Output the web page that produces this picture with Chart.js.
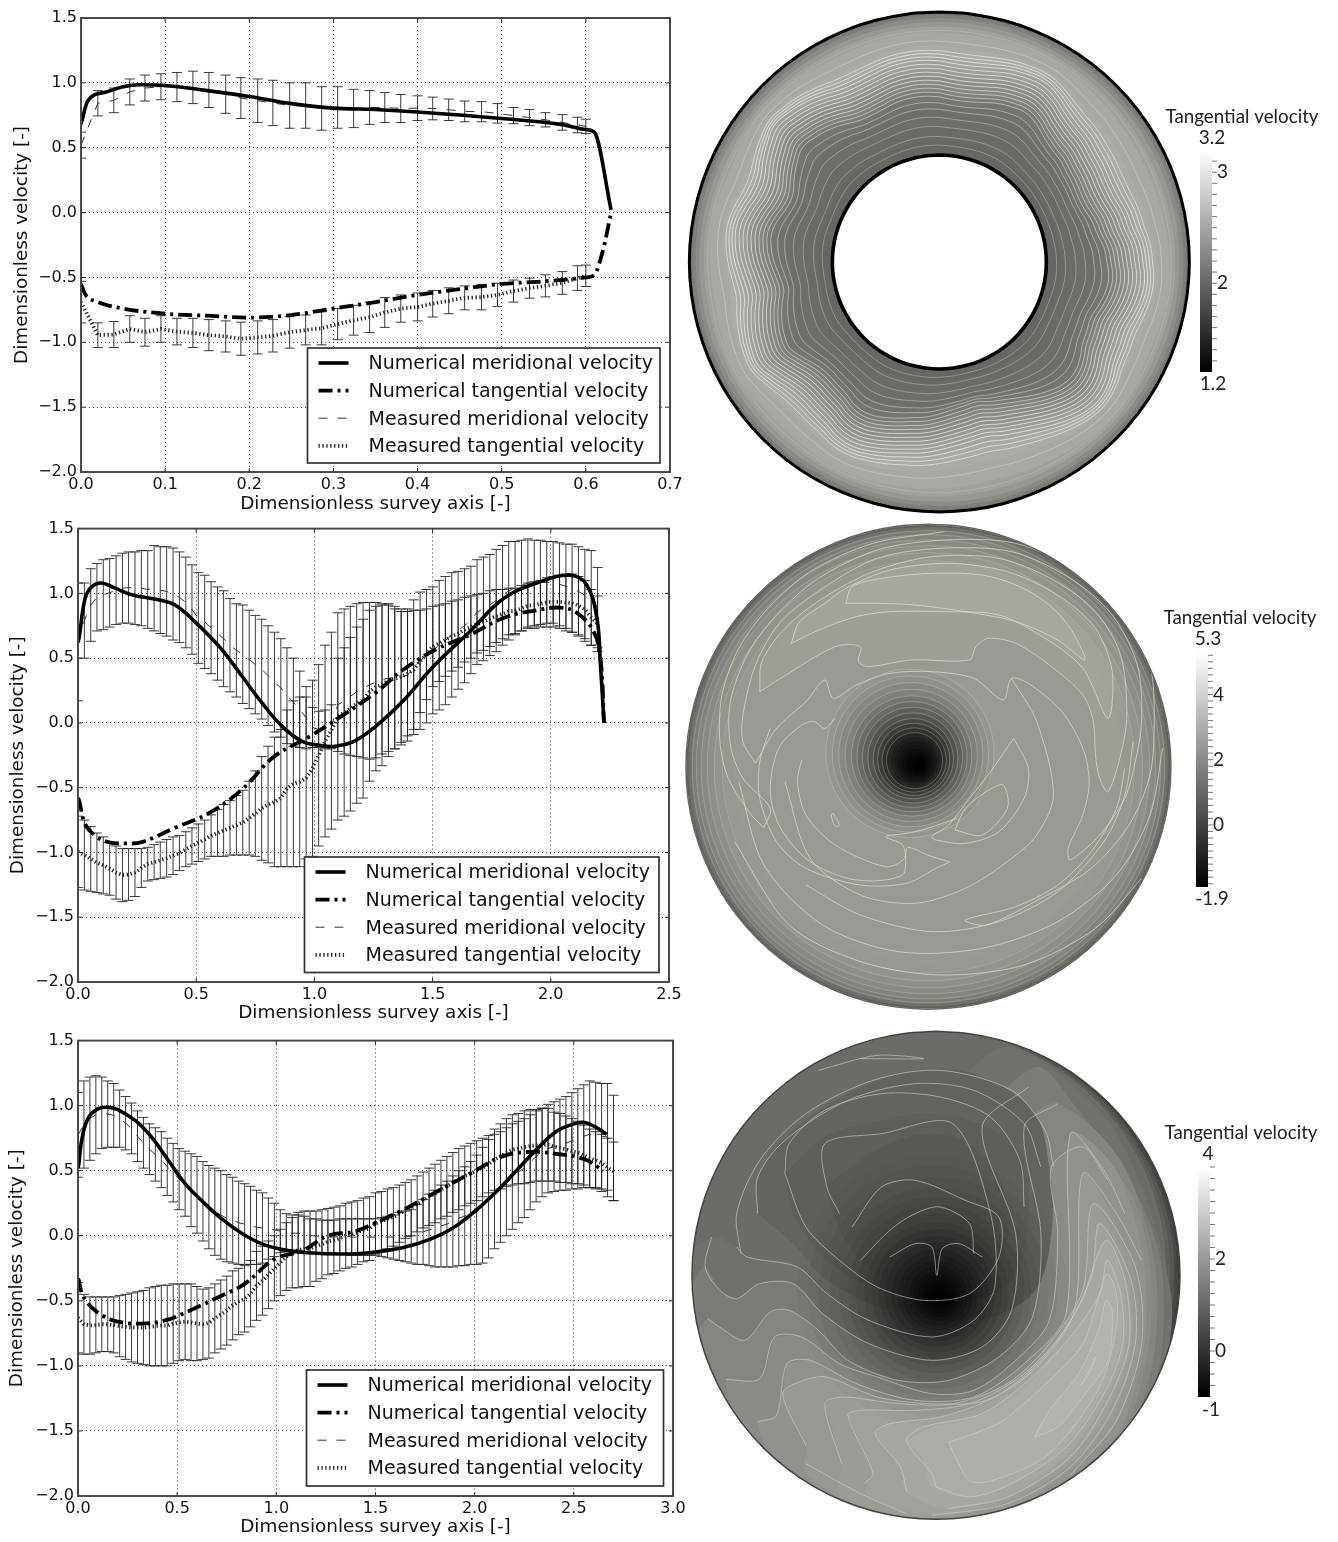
<!DOCTYPE html>
<html><head><meta charset="utf-8">
<style>
html,body{margin:0;padding:0;background:#fff;width:1338px;height:1542px;overflow:hidden}
canvas{position:absolute;display:block;filter:blur(0.5px)}
</style>
<script src="https://cdn.jsdelivr.net/npm/chart.js@4/dist/chart.umd.js"></script>
</head><body>
<script>
/* ---------- chart 1 ---------- */
const x1=[0,0.02,0.039,0.058,0.076,0.095,0.114,0.133,0.152,0.172,0.19,0.21,0.228,0.248,0.267,0.286,0.305,0.324,0.343,0.361,0.38,0.4,0.418,0.437,0.456,0.476,0.495,0.514,0.533,0.552,0.572,0.59,0.6];
const merUp1=[0.62,0.94,0.96,1.03,1.06,1.07,1.08,1.09,1.08,1.06,1.04,1.03,1.02,1.0,1.0,0.97,0.97,0.95,0.94,0.925,0.91,0.9,0.89,0.875,0.86,0.855,0.84,0.81,0.795,0.77,0.755,0.735,0.72];
const merLo1=[0.42,0.745,0.77,0.83,0.86,0.87,0.855,0.84,0.81,0.765,0.725,0.695,0.67,0.65,0.65,0.635,0.65,0.655,0.68,0.695,0.695,0.71,0.715,0.71,0.7,0.7,0.69,0.685,0.67,0.66,0.635,0.615,0.61];
const tanUp1=[-0.53,-0.85,-0.84,-0.795,-0.815,-0.795,-0.815,-0.815,-0.825,-0.835,-0.845,-0.835,-0.825,-0.8,-0.79,-0.765,-0.74,-0.715,-0.69,-0.655,-0.635,-0.62,-0.6,-0.58,-0.565,-0.555,-0.545,-0.52,-0.505,-0.48,-0.455,-0.41,-0.405];
const tanLo1=[-0.85,-1.04,-1.04,-1.0,-1.03,-1.0,-1.02,-1.04,-1.065,-1.075,-1.1,-1.09,-1.075,-1.045,-1.02,-1.02,-0.98,-0.945,-0.925,-0.885,-0.845,-0.835,-0.805,-0.78,-0.75,-0.75,-0.725,-0.69,-0.66,-0.65,-0.63,-0.6,-0.57];
const numMerX1=[0,0.008,0.03,0.05,0.07,0.1,0.15,0.2,0.25,0.3,0.35,0.4,0.5,0.57,0.6,0.61,0.63];
const numMerY1=[0.68,0.86,0.93,0.97,0.985,0.98,0.94,0.895,0.84,0.805,0.795,0.775,0.725,0.68,0.64,0.62,0.02];
const numTanX1=[0,0.005,0.02,0.05,0.1,0.15,0.2,0.25,0.3,0.35,0.4,0.45,0.5,0.55,0.6,0.61,0.62,0.63];
const numTanY1=[-0.55,-0.63,-0.69,-0.74,-0.78,-0.795,-0.81,-0.79,-0.74,-0.69,-0.635,-0.59,-0.55,-0.53,-0.5,-0.48,-0.3,0];
/* ---------- chart 2 ---------- */
const x2=[0,0.027,0.054,0.08,0.107,0.134,0.161,0.188,0.214,0.241,0.268,0.295,0.322,0.348,0.375,0.402,0.429,0.456,0.482,0.509,0.536,0.563,0.59,0.616,0.643,0.67,0.697,0.724,0.75,0.777,0.804,0.831,0.858,0.884,0.911,0.938,0.965,0.992,1.018,1.045,1.072,1.099,1.126,1.152,1.179,1.206,1.233,1.26,1.286,1.313,1.34,1.367,1.394,1.42,1.447,1.474,1.501,1.528,1.554,1.581,1.608,1.635,1.662,1.688,1.715,1.742,1.769,1.796,1.822,1.849,1.876,1.903,1.93,1.956,1.983,2.01,2.037,2.064,2.09,2.117,2.144,2.171,2.198];
const merUp2=[1.08,1.08,1.19,1.23,1.26,1.27,1.29,1.31,1.32,1.32,1.33,1.33,1.37,1.36,1.36,1.35,1.32,1.28,1.22,1.16,1.14,1.09,1.05,1.02,0.96,0.92,0.91,0.87,0.83,0.8,0.75,0.7,0.65,0.58,0.5,0.4,0.28,0.12,0.09,0.1,0.14,0.5,0.58,0.66,0.74,0.8,0.87,0.9,0.91,0.91,0.9,0.88,0.88,0.95,1.01,1.03,1.05,1.1,1.13,1.16,1.17,1.19,1.21,1.26,1.28,1.3,1.34,1.37,1.4,1.4,1.41,1.42,1.41,1.41,1.4,1.4,1.39,1.38,1.38,1.36,1.34,1.33,1.2];
const merLo2=[0.17,0.5,0.63,0.71,0.72,0.74,0.76,0.77,0.77,0.76,0.75,0.73,0.71,0.69,0.67,0.64,0.62,0.58,0.53,0.46,0.42,0.38,0.33,0.28,0.24,0.2,0.15,0.11,0.07,0.03,-0.02,-0.07,-0.11,-0.16,-0.18,-0.19,-0.2,-0.19,-0.19,-0.2,-0.2,-0.22,-0.24,-0.25,-0.26,-0.27,-0.28,-0.27,-0.24,-0.22,-0.2,-0.17,-0.14,-0.09,-0.05,0,0.07,0.1,0.14,0.2,0.26,0.31,0.38,0.45,0.48,0.52,0.55,0.6,0.64,0.68,0.71,0.74,0.75,0.76,0.77,0.77,0.75,0.73,0.7,0.67,0.63,0.6,0.58];
const tanUp2=[-0.72,-0.75,-0.8,-0.85,-0.88,-0.92,-0.95,-0.97,-0.97,-0.97,-0.97,-0.96,-0.94,-0.92,-0.9,-0.88,-0.87,-0.84,-0.81,-0.78,-0.75,-0.71,-0.67,-0.63,-0.6,-0.56,-0.52,-0.45,-0.37,-0.26,-0.18,-0.11,-0.05,0.1,0.17,0.2,0.2,0.33,0.45,0.6,0.7,0.85,0.88,0.9,0.92,0.93,0.93,0.93,0.92,0.92,0.88,0.86,0.86,0.87,0.87,0.88,0.9,0.91,0.92,0.94,0.95,0.97,0.98,0.99,1,1.02,1.03,1.03,1.04,1.04,1.06,1.08,1.09,1.1,1.12,1.13,1.14,1.15,1.15,1.13,1.1,1.03,0.98];
const tanLo2=[-1.27,-1.29,-1.3,-1.31,-1.32,-1.33,-1.36,-1.38,-1.37,-1.34,-1.27,-1.22,-1.21,-1.2,-1.19,-1.17,-1.14,-1.11,-1.09,-1.07,-1.05,-1.03,-1.03,-1.03,-1.02,-1.02,-1.02,-1.02,-1.03,-1.06,-1.08,-1.11,-1.11,-1.11,-1.11,-1.11,-1.05,-1.03,-0.95,-0.88,-0.82,-0.75,-0.72,-0.68,-0.62,-0.58,-0.45,-0.37,-0.33,-0.26,-0.2,-0.15,-0.1,-0.05,0.08,0.18,0.28,0.32,0.36,0.4,0.43,0.47,0.5,0.54,0.56,0.59,0.62,0.65,0.68,0.69,0.71,0.73,0.73,0.74,0.74,0.74,0.73,0.71,0.7,0.68,0.65,0.6,0.55];
const numMerX2=[0,0.005,0.03,0.058,0.1,0.157,0.227,0.34,0.41,0.495,0.607,0.69,0.776,0.86,0.946,1.03,1.087,1.17,1.257,1.375,1.5,1.66,1.8,1.94,2.08,2.15,2.195,2.21,2.225];
const numMerY2=[0.62,0.66,0.96,1.05,1.08,1.04,0.99,0.95,0.91,0.78,0.57,0.37,0.16,-0.02,-0.14,-0.175,-0.18,-0.14,-0.03,0.17,0.43,0.71,0.96,1.08,1.14,1.07,0.81,0.45,0];
const numTanX2=[0,0.005,0.03,0.072,0.128,0.2,0.27,0.41,0.55,0.69,0.83,0.975,1.117,1.257,1.375,1.517,1.658,1.8,1.94,2.04,2.11,2.18,2.21,2.225];
const numTanY2=[-0.58,-0.6,-0.78,-0.87,-0.92,-0.93,-0.92,-0.81,-0.7,-0.52,-0.26,-0.11,0.055,0.23,0.41,0.57,0.68,0.81,0.87,0.89,0.85,0.71,0.5,0];
/* ---------- chart 3 ---------- */
const x3=[0,0.03,0.06,0.09,0.12,0.15,0.18,0.21,0.24,0.27,0.3,0.33,0.36,0.39,0.42,0.45,0.48,0.51,0.54,0.57,0.6,0.63,0.66,0.69,0.72,0.75,0.78,0.81,0.84,0.87,0.9,0.93,0.96,0.99,1.02,1.05,1.08,1.11,1.14,1.17,1.2,1.23,1.26,1.29,1.32,1.35,1.38,1.41,1.44,1.47,1.5,1.53,1.56,1.59,1.62,1.65,1.68,1.71,1.74,1.77,1.8,1.83,1.86,1.89,1.92,1.95,1.98,2.01,2.04,2.07,2.1,2.13,2.16,2.19,2.22,2.25,2.28,2.31,2.34,2.37,2.4,2.43,2.46,2.49,2.52,2.55,2.58,2.61,2.64,2.67,2.7];
const merUp3=[1.1,1.19,1.22,1.23,1.22,1.19,1.17,1.12,1.07,1.02,0.96,0.91,0.86,0.83,0.8,0.75,0.71,0.67,0.65,0.63,0.61,0.57,0.54,0.52,0.5,0.47,0.45,0.42,0.4,0.38,0.35,0.33,0.29,0.25,0.2,0.17,0.16,0.16,0.15,0.13,0.13,0.12,0.12,0.12,0.13,0.13,0.13,0.13,0.13,0.13,0.13,0.14,0.15,0.16,0.18,0.19,0.2,0.24,0.28,0.32,0.35,0.39,0.42,0.46,0.5,0.53,0.57,0.62,0.68,0.74,0.78,0.8,0.83,0.86,0.88,0.9,0.93,0.96,0.98,1.01,1.03,1.05,1.07,1.1,1.13,1.16,1.19,1.18,1.17,1.17,1.08];
const merLo3=[0.45,0.52,0.58,0.63,0.67,0.68,0.68,0.68,0.66,0.63,0.57,0.52,0.47,0.42,0.37,0.31,0.26,0.2,0.15,0.07,0.02,-0.04,-0.1,-0.15,-0.18,-0.2,-0.21,-0.22,-0.22,-0.22,-0.22,-0.21,-0.18,-0.16,-0.13,-0.12,-0.12,-0.12,-0.13,-0.13,-0.13,-0.14,-0.14,-0.14,-0.14,-0.14,-0.15,-0.15,-0.15,-0.15,-0.15,-0.16,-0.17,-0.18,-0.19,-0.2,-0.21,-0.22,-0.22,-0.23,-0.24,-0.24,-0.24,-0.24,-0.23,-0.23,-0.22,-0.22,-0.21,-0.17,-0.1,-0.05,0,0.05,0.1,0.14,0.2,0.26,0.3,0.33,0.34,0.35,0.35,0.36,0.36,0.37,0.37,0.37,0.36,0.35,0.27];
const tanUp3=[-0.36,-0.45,-0.47,-0.47,-0.47,-0.47,-0.47,-0.46,-0.45,-0.44,-0.43,-0.42,-0.4,-0.39,-0.38,-0.38,-0.37,-0.37,-0.37,-0.37,-0.39,-0.41,-0.4,-0.37,-0.34,-0.31,-0.27,-0.25,-0.23,-0.19,-0.12,-0.08,-0.04,0,0.05,0.1,0.14,0.18,0.19,0.19,0.19,0.2,0.21,0.22,0.23,0.25,0.26,0.27,0.29,0.3,0.33,0.34,0.36,0.37,0.39,0.41,0.43,0.46,0.49,0.52,0.55,0.58,0.61,0.64,0.67,0.69,0.71,0.73,0.75,0.77,0.82,0.86,0.9,0.93,0.94,0.96,0.97,0.97,0.98,0.98,0.95,0.94,0.92,0.9,0.88,0.85,0.82,0.8,0.78,0.75,0.72];
const tanLo3=[-0.9,-0.91,-0.91,-0.9,-0.89,-0.89,-0.9,-0.93,-0.95,-0.97,-0.98,-0.99,-1,-1,-1,-1,-0.98,-0.96,-0.95,-0.96,-0.96,-0.95,-0.94,-0.9,-0.87,-0.84,-0.8,-0.76,-0.74,-0.7,-0.65,-0.61,-0.56,-0.5,-0.46,-0.42,-0.4,-0.4,-0.39,-0.39,-0.35,-0.33,-0.3,-0.29,-0.27,-0.25,-0.24,-0.22,-0.2,-0.19,-0.14,-0.12,-0.1,-0.08,-0.05,-0.02,0,0.03,0.06,0.08,0.1,0.13,0.15,0.18,0.2,0.23,0.25,0.27,0.3,0.33,0.35,0.36,0.38,0.39,0.4,0.4,0.41,0.42,0.42,0.42,0.42,0.41,0.41,0.4,0.4,0.39,0.37,0.36,0.34,0.3,0.27];
const numMerX3=[0,0.005,0.018,0.05,0.1,0.153,0.2,0.29,0.37,0.455,0.54,0.62,0.72,0.825,0.925,1.03,1.16,1.33,1.47,1.64,1.77,1.89,2.01,2.11,2.21,2.31,2.41,2.5,2.555,2.61,2.665];
const numMerY3=[0.52,0.56,0.73,0.9,0.975,0.987,0.97,0.885,0.76,0.58,0.4,0.275,0.135,0.02,-0.06,-0.105,-0.13,-0.14,-0.13,-0.09,-0.03,0.06,0.2,0.34,0.5,0.66,0.8,0.86,0.87,0.835,0.78];
const numTanX3=[0,0.005,0.018,0.05,0.12,0.2,0.32,0.44,0.57,0.71,0.84,0.99,1.13,1.26,1.4,1.5,1.64,1.81,1.98,2.14,2.28,2.41,2.55,2.65];
const numTanY3=[-0.33,-0.345,-0.435,-0.52,-0.61,-0.66,-0.675,-0.65,-0.57,-0.47,-0.37,-0.18,-0.115,0,0.035,0.1,0.2,0.34,0.48,0.61,0.645,0.63,0.59,0.5];
/* ---------- shared text ---------- */
const seriesNames=['Numerical meridional velocity','Numerical tangential velocity','Measured meridional velocity','Measured tangential velocity'];
const yTicksLine=[-2,-1.5,-1,-0.5,0,0.5,1,1.5];
const xLabel='Dimensionless survey axis [-]', yLabel='Dimensionless velocity [-]', barTitle='Tangential velocity';

/* ---------- disc 1 ---------- */
const d1Wave=[6,4,4,6,9,11,12,9,4,1,0,-2,-3,-4,-3,0,2,6,8,10,9,6,3,4,6,11,14,13,9,4,-1,-5,-8,-11,-10,-8,-5,-2,0,3,6,8,7,3,1,0,2,7,12,11,8,4,0,2,6,9,10,7,3,3,8,13,17,15,12,8,4,3,4,6,7,7];
const d1BandR=[250,247,244,240,235,228,212,202,197,192,187,182,177,172,167,162,157,152,146,133,120];
const d1BandG=[120,128,140,152,162,168,172,170,165,159,153,147,141,135,129,123,118,114,110,107,104];
const d1BandA=[0,0,0,0,0.1,0.3,0.7,0.9,1.1,1.2,1.2,1.2,1.2,1.2,1.2,1.2,1.2,1.1,0.8,0.4,0.2];
const d1LineR=[116,124,133,141,148,153,158,162,166,170,174,178,182,186,190,194,198,202,206,218,231];
const d1LineA=[0.15,0.25,0.4,0.6,0.8,1,1.2,1.2,1.2,1.2,1.2,1.2,1.2,1.2,1.2,1.2,1.1,1,0.9,0.5,0.1];
const d1LineO=[0.32,0.32,0.34,0.38,0.42,0.46,0.52,0.58,0.64,0.7,0.75,0.8,0.82,0.85,0.85,0.85,0.85,0.8,0.72,0.35,0.2];
/* ---------- disc 2 ---------- */
const d2RimR=[242,240,237,233,228,222,215,205,195];
const d2RimG=[96,112,124,132,138,143,148,152,154];
const d2LineR=[236,232,227,221,214,206];
const d2VortR=[84,78,72,66,60,55,50,45,40,36,32,28,24,21,18,15,12,10,8,6,4,3,2,1];
const d2VortX=[548,549,550,551,552,553,554,555,556,557,558,559,560,562,563,564,565,566,568,569,570,571,572,574];
const d2VortY=[715,717,719,721,723,725,727,729,731,733,735,737,739,741,743,745,747,749,750,751,752,753,754,755];
const d2VortA=[0.03,0.03,0.05,0.05,0.08,0.09,0.1,0.12,0.14,0.16,0.18,0.2,0.2,0.2,0.2,0.22,0.24,0.26,0.3,0.32,0.35,0.4,0.45,0.55];
const d2Fills=[
 [190,530,195,440,250,340,340,250,460,170,600,125,760,130,890,195,990,290,1050,420,1065,600,1050,720,1020,830,1000,790,990,720,985,620,960,540,880,450,800,385,735,370,705,395,690,435,550,435,450,455,425,440,430,395,370,395,240,490],
 [265,385,285,320,345,265,395,220,500,165,640,145,780,170,900,240,990,340,1030,470,1020,610,960,460,870,370,760,300,630,290,500,290,420,305,340,340],
 [395,265,410,215,480,190,600,175,720,180,810,215,880,270,930,340,965,435,900,375,800,320,680,290,560,270,470,265]
];
const d2Lines=[
 [180,745,150,680,150,600,180,450,240,320,340,220,470,130,620,100,790,110,930,190,1030,300,1090,450,1100,620,1085,740,1060,850,1000,960,930,1035,925,1000,960,900,975,800,960,700,910,590,830,505,790,490,770,555,700,490,600,470,500,475,420,510,365,550,345,495,300,560,230,640,180,745],
 [200,938,215,880,150,790,120,690,120,560,160,420,230,300,330,190,470,105,630,75,800,85,950,170,1060,290,1120,450,1130,620,1120,780,1070,930,980,1060,860,1150,730,1230,680,1215,800,1175,900,1110,980,1010,1040,880,1060,760],
 [200,938,170,900,115,790,95,680,100,540,140,400,210,280,310,170,460,85,630,50],
 [795,670,830,760,820,850,760,950,680,985,610,975,600,965,640,930,690,850,740,770,795,670],
 [655,945,680,880,730,830,770,810,780,880,720,960,655,945],
 [290,735,280,800,300,900,370,990,490,1055,535,1030,530,990,490,965,540,955,590,940,660,910],
 [640,1040,590,1020,555,1000,540,1000,530,1080,420,1095,310,1040,240,940,215,830,235,700,290,630,320,620,345,640,370,610],
 [645,1040,610,1060,540,1105,430,1110,300,1060,230,980,190,850,190,740,215,640],
 [250,800,310,1030,430,1140,560,1165,680,1120,780,1040,850,960,890,840,850,620,790,490],
 [300,1110,430,1200,600,1250,760,1220,900,1130,1010,980,1060,840,1080,680],
 [140,800,200,1050,340,1230,520,1310,720,1300,900,1220,1040,1080,1120,900,1150,700],
 [130,980,260,1230,430,1340,620,1380,820,1350,990,1240,1100,1090],
 [365,895,380,930,370,935,360,900,365,895]
];
/* ---------- disc 3 ---------- */
const d3Crescent=[[606,742,580,730,72],[600,738,578,730,86],[594,735,574,726,96],[588,730,570,722,108]];
const d3Lens=[
 {g:180,p:[1015,820,1030,850,1020,1000,960,1110,900,1200,845,1235,880,1150,950,1040,1000,900]},
 {g:176,p:[640,1245,700,1220,770,1180,880,1060,960,950,1000,800,1018,740,1038,800,1038,900,1010,1050,950,1180,870,1290,770,1350,695,1365,660,1300]},
 {g:172,p:[540,1240,620,1190,720,1160,830,1060,930,930,1000,800,1018,700,1048,800,1050,950,1005,1100,915,1260,790,1370,690,1410,600,1380,580,1300]},
 {g:167,p:[465,1220,500,1190,620,1170,750,1110,860,1000,950,840,1015,640,1055,760,1063,950,1012,1120,920,1285,780,1405,640,1445,540,1395,525,1320]},
 {g:162,p:[400,1165,430,1150,560,1150,690,1130,810,1050,910,920,980,750,1000,590,1065,760,1075,950,1020,1150,920,1305,775,1420,600,1465,440,1400,460,1340]},
 {g:157,p:[345,1130,390,1110,520,1130,650,1130,780,1070,880,950,960,790,985,530,1065,720,1085,950,1030,1170,920,1320,770,1430,560,1470,380,1400,385,1310]},
 {g:152,p:[295,1060,350,1050,470,1110,600,1130,730,1120,850,1020,940,850,960,440,1075,700,1095,950,1040,1190,920,1340,760,1450,500,1480,300,1340,300,1255,245,1100]},
 {g:146,p:[255,1010,310,1000,420,1070,560,1120,700,1110,820,1010,920,860,930,320,1040,430,1105,700,1107,950,1050,1205,920,1360,740,1470,450,1490,240,1330,185,1185,230,1165]},
 {g:140,p:[225,930,290,930,380,1010,470,1050,600,1100,700,1090,800,1000,880,880,900,620,885,420,960,360,1075,500,1120,720,1117,960,1055,1220,925,1375,700,1480,400,1500,180,1300,110,1058,190,1055]},
 {g:133,p:[215,855,260,850,330,910,400,1000,520,1060,640,1060,760,990,840,870,860,620,820,300,900,230,1050,400,1130,700,1130,980,1065,1235,930,1390,700,1500,300,1500,120,1250,40,950,65,875,100,905,155,940]},
 {g:124,p:[135,815,190,770,270,770,340,860,450,950,600,1000,720,960,790,850,800,620,720,300,850,120,950,250,1080,480,1145,700,1145,1000,1075,1250,935,1405,600,1560,200,1450,0,1000,20,800,60,720,95,790]},
 {g:113,p:[135,660,160,690,280,720,350,800,450,880,600,930,700,880,750,780,740,560,640,240,780,60,1000,250,1100,480,1170,800,1160,1000,1090,1270,945,1420,600,1600,100,1400,-60,800,75,630]}
];
const d3DarkFills=[
 {g:100,p:[185,560,190,440,270,310,400,200,560,130,700,140,840,250,880,420,885,620,840,800,700,880,500,850,350,760,270,650]},
 {g:95,p:[250,440,345,330,480,280,600,260,720,295,810,380,830,560,790,760,650,830,480,790,350,700,270,560]},
 {g:90,p:[345,480,480,360,600,320,700,360,770,480,780,640,700,760,500,760,400,650]}
];
const d3VortR=[135,125,115,105,96,88,80,72,65,58,52,46,40,35,30,25,21,17,14,11,8,6,4,2];
const d3VortX=[600,602,604,606,608,610,610,611,612,612,613,613,614,614,615,616,616,617,618,618,619,620,620,621];
const d3VortY=[790,792,794,796,797,798,799,800,801,802,803,804,805,806,807,807,808,808,808,809,809,810,810,810];
const d3VortA=[0.02,0.03,0.04,0.04,0.05,0.06,0.07,0.08,0.09,0.1,0.11,0.12,0.13,0.15,0.16,0.18,0.2,0.22,0.24,0.26,0.28,0.3,0.35,0.45];
const d3Lines=[
 [955,1075,975,1030,990,990,975,1040,955,1075],
 [845,1230,880,1150,950,1040,1000,900,1015,820,1030,850,1020,1000,960,1110,900,1200,845,1230],
 [640,1245,700,1220,770,1180,880,1060,960,950,1000,800,1018,740,1040,800,1040,900,1010,1050,950,1180,870,1290,770,1350,695,1365,660,1300,640,1245],
 [610,1380,600,1340,540,1240,580,1200,720,1160,830,1060,930,930,1000,800,1018,700,1050,800,1055,950,1010,1100,920,1260,790,1370,690,1410,610,1380],
 [540,1395,525,1320,465,1220,500,1190,620,1170,750,1110,860,1000,950,840,1015,640,1060,760,1070,950,1020,1120,930,1290,780,1410,640,1445],
 [440,1370,460,1340,400,1165,430,1150,560,1150,690,1130,810,1050,910,920,980,750,1000,590,1075,760,1085,950,1030,1150,930,1320,780,1430,600,1465],
 [385,1310,345,1130,390,1110,520,1130,650,1130,780,1070,880,950,960,790,985,530,1085,720,1100,950,1040,1180,930,1345],
 [300,1255,245,1100,295,1060,350,1050,470,1110,600,1130,730,1120,850,1020,940,850,960,440,1040,560,1100,700],
 [185,1185,230,1165,255,1010,310,1000,420,1070,560,1120,700,1110,820,1010,920,860,930,320,1010,430,1060,560],
 [110,1058,190,1055,225,930,290,930,380,1010,470,1050,600,1100,700,1090,800,1000,880,880,900,620,885,420,960,360,1020,460],
 [65,875,100,905,155,940,215,855,260,850,330,910,400,1000,520,1060,640,1060,760,990,840,870,860,620,820,300,900,230],
 [75,630,60,720,95,790,135,815,190,770,270,770,340,860,450,950,600,1000,720,960,790,850,800,620,720,300,830,180],
 [135,660,160,690,280,720,350,800,450,880,600,930,700,880,750,780,740,560,650,290,480,320,345,350,350,480,380,560],
 [145,680,135,560,190,400,300,260,460,160,620,130,790,190,870,310,890,420],
 [185,560,185,450,250,340,400,220,560,170,700,190,820,290,860,420],
 [250,440,260,350,345,250,480,200,620,210,740,270,810,400,820,540],
 [250,440,300,600,380,700,470,780,580,820,690,800,760,690,760,570,680,520,560,460,480,480,410,600],
 [430,700,500,610,560,560,620,540,690,590,700,680],
 [500,690,560,650,600,660,612,745,625,665,665,650,720,690],
 [430,95,580,95,470,85,330,130],
 [300,1310,430,1400,540,1460]
];
/* ---------- colour bars ---------- */
const bar1={min:1.2,max:3.2,major:[3,2],top:'3.2',bottom:'1.2',minor:[3.1,3,2.9,2.8,2.7,2.6,2.5,2.4,2.3,2.2,2.1,2,1.9,1.8,1.7,1.6,1.5,1.4,1.3]};
const bar2={min:-1.9,max:5.3,major:[4,2,0],top:'5.3',bottom:'-1.9',minor:[5.2,5,4.8,4.6,4.4,4.2,4,3.8,3.6,3.4,3.2,3,2.8,2.6,2.4,2.2,2,1.8,1.6,1.4,1.2,1,0.8,0.6,0.4,0.2,0,-0.2,-0.4,-0.6,-0.8,-1,-1.2,-1.4,-1.6,-1.8]};
const bar3={min:-1,max:4,major:[2,0],top:'4',bottom:'-1',minor:[4,3.75,3.5,3.25,3,2.75,2.5,2.25,2,1.75,1.5,1.25,1,0.75,0.5,0.25,0,-0.25,-0.5,-0.75]};

/* ---------- helpers ---------- */
Chart.defaults.animation=false;
Chart.defaults.responsive=false;
Chart.defaults.devicePixelRatio=1;
Chart.defaults.font.family='"DejaVu Sans"';
Chart.defaults.color='#111';
const zip=(xs,ys)=>xs.map((x,i)=>({x,y:ys[i]}));
const mk=(left,top,w,h)=>{const c=document.createElement('canvas');c.width=w;c.height=h;c.style.left=left+'px';c.style.top=top+'px';document.body.appendChild(c);return c;};
const uni=s=>String(s).replace('-','\u2212');

const errPlugin={id:'err',beforeDatasetsDraw(ch,a,o){
  const c=ch.ctx,X=ch.scales.x,Y=ch.scales.y,A=ch.chartArea;
  c.save();c.beginPath();c.rect(A.left,A.top,A.width,A.height);c.clip();
  c.strokeStyle='rgba(25,25,25,0.85)';c.lineWidth=1;
  for(const s of o.series){s.x.forEach((v,i)=>{
    const px=X.getPixelForValue(v),u=Y.getPixelForValue(s.up[i]),l=Y.getPixelForValue(s.lo[i]);
    c.beginPath();c.moveTo(px,u);c.lineTo(px,l);
    c.moveTo(px-o.cap,u);c.lineTo(px+o.cap,u);c.moveTo(px-o.cap,l);c.lineTo(px+o.cap,l);c.stroke();});}
  c.restore();
}};
const framePlugin={id:'frame',afterDatasetsDraw(ch,a,o){
  const c=ch.ctx,A=ch.chartArea,X=ch.scales.x,Y=ch.scales.y;
  c.save();c.strokeStyle='#222';c.lineWidth=1;c.beginPath();
  X.ticks.forEach(t=>{const p=X.getPixelForValue(t.value);c.moveTo(p,A.bottom);c.lineTo(p,A.bottom-4);c.moveTo(p,A.top);c.lineTo(p,A.top+4);});
  Y.ticks.forEach(t=>{const p=Y.getPixelForValue(t.value);c.moveTo(A.left,p);c.lineTo(A.left+4,p);c.moveTo(A.right,p);c.lineTo(A.right-4,p);});
  c.stroke();
  c.strokeStyle='#444';c.lineWidth=1.9;c.strokeRect(A.left,A.top,A.width,A.height);
  const b=o.box,by=b.y-o.top;
  c.fillStyle='#fff';c.fillRect(b.x,by,b.w,b.h);c.strokeStyle='#333';c.lineWidth=1.7;c.strokeRect(b.x,by,b.w,b.h);
  c.font='19px "DejaVu Sans"';c.textBaseline='middle';c.textAlign='left';
  ch.data.datasets.forEach((d,i)=>{
    const y=by+15+i*27.6;
    c.beginPath();c.setLineDash(d.borderDash||[]);c.lineDashOffset=0;c.lineWidth=d.borderWidth;c.strokeStyle=d.borderColor;
    c.moveTo(b.x+11,y);c.lineTo(b.x+41,y);c.stroke();c.setLineDash([]);
    c.fillStyle='#111';c.fillText(d.label,b.x+61,y+1.5);
  });
  c.restore();
}};

function lineChart(cfg){
  const canvas=mk(0,cfg.top,690,515);
  const ser=[{x:cfg.x,up:cfg.merUp,lo:cfg.merLo},{x:cfg.x,up:cfg.tanUp,lo:cfg.tanLo}];
  const mean=(u,l)=>cfg.x.map((x,i)=>({x,y:(u[i]+l[i])/2}));
  const curve=cfg.sharp?{cubicInterpolationMode:'monotone'}:{tension:0.4};
  new Chart(canvas,{type:'scatter',
    data:{datasets:[
      {label:seriesNames[0],data:zip(cfg.nmx,cfg.nmy),showLine:true,borderColor:'#000',borderWidth:3.6,pointRadius:0,...curve,order:0},
      {label:seriesNames[1],data:zip(cfg.ntx,cfg.nty),showLine:true,borderColor:'#000',borderWidth:3.8,borderDash:[14,5,3,5],pointRadius:0,...curve,order:1},
      {label:seriesNames[2],data:mean(cfg.merUp,cfg.merLo),showLine:true,borderColor:'#333',borderWidth:1,borderDash:[9,10],pointRadius:0,order:2},
      {label:seriesNames[3],data:mean(cfg.tanUp,cfg.tanLo),showLine:true,borderColor:'#222',borderWidth:3.8,borderDash:[1.3,2.6],pointRadius:0,order:3}
    ]},
    options:{
      layout:{padding:{left:0,right:690-cfg.right,top:cfg.plotTop,bottom:0}},
      plugins:{legend:{display:false},tooltip:{enabled:false},err:{series:ser,cap:5},frame:{box:cfg.box,top:cfg.top}},
      scales:{
        x:{type:'linear',min:0,max:cfg.xMax,position:'bottom',
           afterFit:s=>{s.height=515-cfg.plotBottom;},
           afterBuildTicks:s=>{s.ticks=cfg.xTicks.map(v=>({value:v}));},
           ticks:{font:{size:16},color:'#111',padding:3,maxRotation:0,autoSkip:false,callback:v=>uni(v.toFixed(1))},
           grid:{color:'#222',lineWidth:0.9,drawTicks:false},border:{display:false,dash:[1,3]},
           title:{display:true,text:xLabel,font:{size:18.4},color:'#111',padding:{top:0,bottom:cfg.xTitleBottom}}},
        y:{type:'linear',min:-2,max:1.5,position:'left',
           afterFit:s=>{s.width=cfg.left;},
           afterBuildTicks:s=>{s.ticks=yTicksLine.map(v=>({value:v}));},
           ticks:{font:{size:16},color:'#111',padding:4,autoSkip:false,callback:v=>uni(v.toFixed(1))},
           grid:{color:'#222',lineWidth:0.9,drawTicks:false},border:{display:false,dash:[1,3]},
           title:{display:true,text:yLabel,font:{size:18.4},color:'#111',padding:{top:cfg.yTitleTop,bottom:0}}}
      }
    },plugins:[errPlugin,framePlugin]});
}

/* ---------- discs ---------- */
const SX=2.383,SY=3;
const grey=v=>`rgb(${v},${v},${Math.max(0,v-6)})`;
const loop=(cx,cy,r,wave,amp)=>{const n=wave?wave.length:48,o=[];for(let i=0;i<=n;i++){const t=2*Math.PI*i/n,w=wave?wave[i%n]*amp:0;o.push({x:cx+(r+w)*SX*Math.sin(t),y:cy-(r+w)*SY*Math.cos(t)});}return o;};
const poly=(a,close)=>{const o=[];for(let i=0;i<a.length;i+=2)o.push({x:a[i],y:a[i+1]});if(close)o.push({x:a[0],y:a[1]});return o;};
const F=(data,color,tension)=>({data,showLine:true,pointRadius:0,borderWidth:0,borderColor:color,backgroundColor:color,fill:'shape',tension:tension??0.4});
const L=(data,color,w,tension)=>({data,showLine:true,pointRadius:0,borderWidth:w,borderColor:color,fill:false,tension:tension??0.4});
function discChart(top,sets){
  const canvas=mk(680,top,658,515);
  sets.forEach((d,i)=>{d.order=-i;});
  new Chart(canvas,{type:'scatter',data:{datasets:sets},options:{
    layout:{padding:0},plugins:{legend:{display:false},tooltip:{enabled:false}},
    scales:{x:{type:'linear',display:false,min:0,max:1568},y:{type:'linear',display:false,min:0,max:1545,reverse:true}}}});
}
{const cx=618,cy=786,s=[];
 d1BandR.forEach((r,i)=>s.push(F(loop(cx,cy,r,d1Wave,d1BandA[i]),grey(d1BandG[i]))));
 d1LineR.forEach((r,i)=>s.push(L(loop(cx,cy,r,d1Wave,d1LineA[i]),`rgba(232,232,226,${d1LineO[i]})`,1)));
 s.push(L(loop(cx,cy,281),'#fff',60));
 s.push(L(loop(cx,cy,250),'#000',3));
 s.push({...F(loop(cx,cy,107),'#fff'),borderWidth:3.6,borderColor:'#000'});
 discChart(0,s);}
{const cx=592,cy=755,line='rgba(222,222,214,0.68)',s=[];
 d2RimR.forEach((r,i)=>s.push(F(loop(cx,cy,r),grey(d2RimG[i]))));
 d2Fills.forEach(p=>s.push(F(poly(p,true),'rgba(255,255,240,0.05)')));
 d2VortR.forEach((r,i)=>s.push(F(loop(d2VortX[i],d2VortY[i],r),`rgba(0,0,0,${d2VortA[i]})`)));
 d2LineR.forEach(r=>s.push(L(loop(cx,cy,r),'rgba(200,200,195,0.3)',1)));
 d2Fills.forEach(p=>s.push(L(poly(p,true),line,1,0.3)));
 d2Lines.forEach(p=>s.push(L(poly(p),line,1,0.3)));
 d2VortR.slice(0,12).forEach((r,i)=>s.push(L(loop(d2VortX[i],d2VortY[i],r),'rgba(215,215,208,0.3)',1)));
 s.push(L(loop(cx,cy,273),'#fff',60));
 s.push(L(loop(cx,cy,242.5),'#666',1.5));
 discChart(515,s);}
{const cx=610,cy=745,line='rgba(205,205,198,0.62)',s=[];
 s.push(F(loop(cx,cy,244),grey(62)));
 d3Crescent.forEach(a=>{const o=[];for(let i=0;i<=48;i++){const t=2*Math.PI*i/48;o.push({x:a[0]+a[2]*Math.sin(t),y:a[1]-a[3]*Math.cos(t)});}s.push(F(o,grey(a[4])));});
 d3Lens.slice().reverse().forEach(l=>s.push(F(poly(l.p,true),grey(l.g),0.3)));
 d3DarkFills.forEach(l=>s.push(F(poly(l.p,true),grey(l.g),0.35)));
 d3VortR.forEach((r,i)=>s.push(F(loop(d3VortX[i],d3VortY[i],r),`rgba(0,0,0,${d3VortA[i]})`)));
 d3Lines.forEach(p=>s.push(L(poly(p),line,1,0.3)));
 s.push(L(loop(cx,cy,324),'#fff',160));
 s.push(L(loop(cx,cy,244),'#444',1.5));
 discChart(1027,s);}

lineChart({top:0,left:81,right:670,plotTop:18,plotBottom:472,xMax:0.7,xTicks:[0,0.1,0.2,0.3,0.4,0.5,0.6,0.7],x:x1,merUp:merUp1,merLo:merLo1,tanUp:tanUp1,tanLo:tanLo1,nmx:numMerX1,nmy:numMerY1,ntx:numTanX1,nty:numTanY1,box:{x:307.5,y:348,w:352.5,h:115},xTitleBottom:0,yTitleTop:11,sharp:true});
lineChart({top:515,left:78,right:669,plotTop:11,plotBottom:467,xMax:2.5,xTicks:[0,0.5,1,1.5,2,2.5],x:x2,merUp:merUp2,merLo:merLo2,tanUp:tanUp2,tanLo:tanLo2,nmx:numMerX2,nmy:numMerY2,ntx:numTanX2,nty:numTanY2,box:{x:304.5,y:857,w:354.5,h:115.5},xTitleBottom:6,yTitleTop:7});
lineChart({top:1027,left:78,right:673,plotTop:9,plotBottom:469,xMax:3,xTicks:[0,0.5,1,1.5,2,2.5,3],x:x3,merUp:merUp3,merLo:merLo3,tanUp:tanUp3,tanLo:tanLo3,nmx:numMerX3,nmy:numMerY3,ntx:numTanX3,nty:numTanY3,box:{x:306.5,y:1370,w:357,h:116},xTitleBottom:4,yTitleTop:6});

/* ---------- colour bars ---------- */
const cbPlugin={id:'cb',afterDatasetsDraw(ch,a,o){
  const c=ch.ctx,A=ch.chartArea,Y=ch.scales.y;
  c.save();c.strokeStyle='#777';c.lineWidth=1;c.beginPath();
  o.bar.minor.forEach(v=>{const p=Y.getPixelForValue(v);c.moveTo(A.right,p);c.lineTo(A.right+5,p);});c.stroke();
  c.fillStyle='#222';c.textAlign='center';c.textBaseline='middle';
  c.font='18.8px Lato';c.fillText(barTitle,o.titleX,o.titleY);
  c.font='19px Lato';c.fillText(o.bar.top,o.topX,o.topY);c.fillText(o.bar.bottom,o.botX,o.botY);
  c.restore();
}};
function colorBar(bar,left,barTop,barBottom,p){
  const W=1338-1160,top=barTop-50,H=barBottom-barTop+50+30;
  const canvas=mk(1160,top,W,H);
  new Chart(canvas,{type:'bar',data:{labels:[''],datasets:[{data:[[bar.min,bar.max]],barPercentage:1,categoryPercentage:1,
     backgroundColor:ctx=>{const A=ctx.chart.chartArea;if(!A)return '#000';const g=ctx.chart.ctx.createLinearGradient(0,A.bottom,0,A.top);g.addColorStop(0,'#000');g.addColorStop(1,'#fff');return g;}}]},
    options:{layout:{padding:{left:left-1160,right:0,top:50,bottom:30}},
     plugins:{legend:{display:false},tooltip:{enabled:false},cb:{bar,titleX:p.tx-1160,titleY:p.ty-top,topX:p.topX-1160,topY:p.topY-top,botX:p.botX-1160,botY:p.botY-top}},
     scales:{x:{display:false},
       y:{position:'right',min:bar.min,max:bar.max,afterFit:s=>{s.width=1338-(left+12);},
          afterBuildTicks:s=>{s.ticks=bar.major.map(v=>({value:v}));},
          ticks:{font:{family:'Lato',size:19},color:'#222',padding:-3},
          grid:{display:false},border:{display:false}}}},plugins:[cbPlugin]});
}
colorBar(bar1,1200,150,372,{tx:1242,ty:117,topX:1212,topY:138,botX:1213,botY:384});
colorBar(bar2,1196,652,887,{tx:1240,ty:618,topX:1208,topY:639,botX:1212,botY:899});
colorBar(bar3,1198,1167,1397,{tx:1241,ty:1133,topX:1208,topY:1154,botX:1211,botY:1410});
</script>
</body></html>
